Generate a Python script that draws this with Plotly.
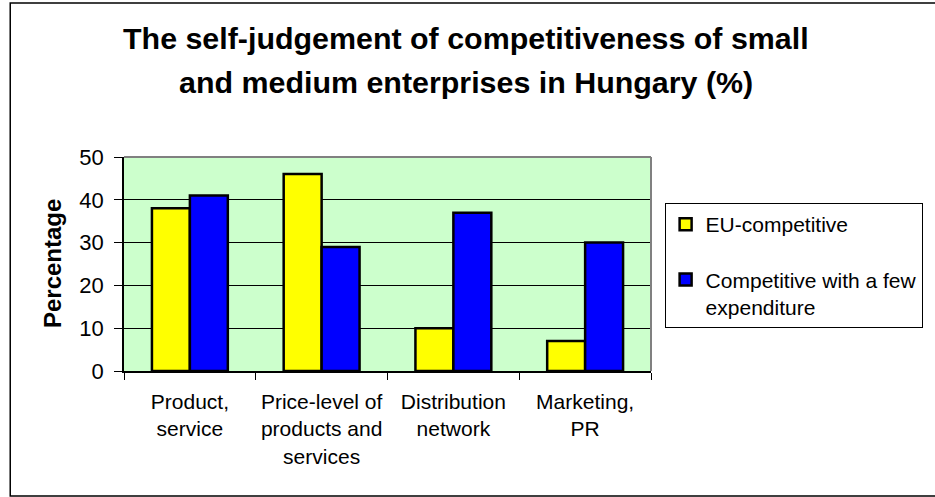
import plotly.graph_objects as go

# Survey results: share of SMEs rating each area as competitive (%)
categories = [
    "Product,<br>service",
    "Price-level of<br>products and<br>services",
    "Distribution<br>network",
    "Marketing,<br>PR",
]
series_names = ["EU-competitive", "Competitive with a few<br>expenditure"]
eu_competitive = [38, 46, 10, 7]
competitive_low_cost = [41, 29, 37, 30]
y_ticks = [0, 10, 20, 30, 40, 50]

title_lines = [
    "The self-judgement of competitiveness of small",
    "and medium enterprises in Hungary (%)",
]
y_title = "Percentage"

FONT = "Arial, Liberation Sans, Helvetica, sans-serif"
W, H = 935, 497
L, R, T, B = 124, 269, 157, 126
PW, PH = W - L - R, H - T - B


def px_x(x):
    return (x - L) / PW


def px_y(y):
    return (H - B - y) / PH


fig = go.Figure()
colors = ["#FFFF00", "#0000FF"]
for i, (name, vals) in enumerate(zip(series_names, [eu_competitive, competitive_low_cost])):
    fig.add_trace(go.Bar(
        x=categories, y=vals, name=name,
        legendgroup=f"g{i}",
        marker=dict(color=colors[i], line=dict(color="black", width=2.5)),
    ))

fig.update_layout(
    width=W, height=H,
    margin=dict(l=L, r=R, t=T, b=B),
    paper_bgcolor="white",
    plot_bgcolor="#CCFFCC",
    barmode="group", bargap=0.424, bargroupgap=0,
    font=dict(family=FONT, color="black", size=21),
    showlegend=True,
    legend=dict(
        x=px_x(680), xanchor="left", y=px_y(203), yanchor="top",
        bordercolor="black", borderwidth=1, bgcolor="white",
        font=dict(size=21, family=FONT), tracegroupgap=25,
        valign="top", itemclick=False,
    ),
    xaxis=dict(
        showline=True, linecolor="black", linewidth=1.5,
        ticks="outside", ticklen=7, tickcolor="black", tickwidth=1,
        tickson="boundaries", showgrid=False, tickangle=0,
        tickfont=dict(size=21), ticklabelstandoff=11,
    ),
    yaxis=dict(
        range=[0, 50], tickvals=y_ticks,
        showline=True, linecolor="black", linewidth=1.5,
        ticks="outside", ticklen=8, tickcolor="black", tickwidth=1,
        showgrid=True, gridcolor="black", gridwidth=1,
        zeroline=False,
        tickfont=dict(size=22), ticklabelstandoff=6,
    ),
)

# Plot-area frame on top and right edges
fig.add_shape(type="line", xref="paper", yref="paper", x0=0, x1=1, y0=1, y1=1,
              line=dict(color="#808080", width=2))
fig.add_shape(type="line", xref="paper", yref="paper", x0=1, x1=1, y0=0, y1=1,
              line=dict(color="#808080", width=2))

# Outer chart border (its right side lies past the page edge)
fig.add_shape(type="rect", xref="paper", yref="paper",
              x0=px_x(7), x1=px_x(960), y0=px_y(496), y1=px_y(3),
              line=dict(color="black", width=1.5), fillcolor="rgba(0,0,0,0)")

# Title, two centred lines
for text, yc in zip(title_lines, [38, 82]):
    fig.add_annotation(
        text=f"<b>{text}</b>", xref="paper", yref="paper",
        x=px_x(476), y=px_y(yc), xanchor="center", yanchor="middle",
        showarrow=False, font=dict(size=30.4, family=FONT, color="black"),
    )

# Y-axis title
fig.add_annotation(
    text=f"<b>{y_title}</b>", xref="paper", yref="paper",
    x=px_x(50), y=0.5, xanchor="center", yanchor="middle",
    textangle=-90, showarrow=False,
    font=dict(size=24, family=FONT, color="black"),
)

fig.write_html("out.html")
